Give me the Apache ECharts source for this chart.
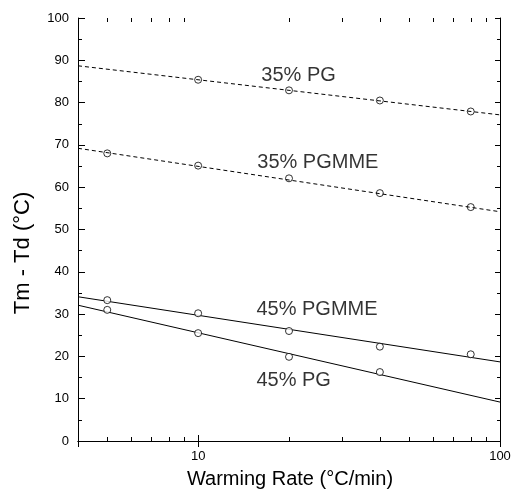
<!DOCTYPE html>
<html>
<head>
<meta charset="utf-8">
<script src="https://cdn.jsdelivr.net/npm/echarts@6/dist/echarts.min.js"></script>
<style>
html,body{margin:0;padding:0;background:#fff;}
#chart{width:515px;height:494px;}
</style>
</head>
<body>
<div id="chart"></div>
<script>
// Warming rates (°C/min)
const xRates = [5, 10, 20, 40, 80];
// Measured Tm - Td (°C)
const pg35 = [null, 85.4, 82.9, 80.5, 77.9];
const pgmme35 = [68.0, 65.1, 62.1, 58.6, 55.3];
const pgmme45 = [33.3, 30.2, 26.0, 22.3, 20.5];
const pg45 = [31.0, 25.5, 19.9, 16.3, null];
// Fitted lines, evaluated at the axis ends
const fitX = [4, 100];
const fitPg35 = [88.7, 77.1];
const fitPgmme35 = [69.2, 54.2];
const fitPgmme45 = [34.1, 18.7];
const fitPg45 = [32.1, 9.2];
// Curve labels and their anchors (data coordinates)
const curveNames = ['35% PG', '35% PGMME', '45% PGMME', '45% PG'];
const curveLabelX = [16.2, 15.7, 15.6, 15.6];
const curveLabelY = [86.5, 65.9, 31.2, 14.3];
// Axis ticks
const xMinorTicks = [5, 6, 7, 8, 9, 20, 30, 40, 50, 60, 70, 80, 90];
const yMin = 0, yMax = 100, yInterval = 10;
const xMin = 4, xMax = 100;

const FONT = "'Liberation Sans', Arial, Helvetica, sans-serif";

function pts(xs, ys) {
  const out = [];
  for (let i = 0; i < xs.length; i++) if (ys[i] !== null) out.push([xs[i], ys[i]]);
  return out;
}

const chart = echarts.init(document.getElementById('chart'), null, {renderer: 'canvas'});

const axisLine = {show: true, lineStyle: {color: '#000', width: 1}};

function fitSeries(ys, dashed) {
  return {
    type: 'line', data: pts(fitX, ys), symbol: 'none', silent: true, z: 2,
    lineStyle: {color: '#000', width: 1, type: dashed ? [4, 3] : 'solid'}
  };
}
function ptSeries(ys, fill) {
  return {
    type: 'scatter', data: pts(xRates, ys), symbol: 'circle', symbolSize: 7, z: 3,
    itemStyle: {color: fill, borderColor: '#000', borderWidth: 1}
  };
}

const option = {
  animation: false,
  backgroundColor: '#fff',
  textStyle: {fontFamily: FONT},
  grid: {left: 78, right: 15, top: 18, bottom: 53, containLabel: false},
  xAxis: [
    {
      type: 'log', logBase: 10, min: xMin, max: xMax, position: 'bottom',
      axisLine: axisLine,
      axisTick: {show: true, inside: true, length: 6, lineStyle: {color: '#000'}},
      axisLabel: {show: true, color: '#000', fontSize: 13, fontFamily: FONT, margin: 9, showMinLabel: false},
      splitLine: {show: false}
    },
    {
      type: 'log', logBase: 10, min: xMin, max: xMax, position: 'top',
      axisLine: axisLine,
      axisTick: {show: true, inside: true, length: 6, lineStyle: {color: '#000'}},
      axisLabel: {show: false},
      splitLine: {show: false}
    }
  ],
  yAxis: [
    {
      type: 'value', min: yMin, max: yMax, interval: yInterval, position: 'left',
      axisLine: axisLine,
      axisTick: {show: true, inside: true, length: 7, lineStyle: {color: '#000'}},
      minorTick: {show: true, splitNumber: 2, length: 4, lineStyle: {color: '#000'}},
      axisLabel: {show: true, color: '#000', fontSize: 13, fontFamily: FONT, margin: 9},
      splitLine: {show: false}
    },
    {
      type: 'value', min: yMin, max: yMax, interval: yInterval, position: 'right',
      axisLine: axisLine,
      axisTick: {show: true, inside: true, length: 5, lineStyle: {color: '#000'}},
      minorTick: {show: true, splitNumber: 2, length: 3, lineStyle: {color: '#000'}},
      axisLabel: {show: false},
      splitLine: {show: false}
    }
  ],
  graphic: [
    {
      type: 'text', x: 23, y: 253, rotation: Math.PI / 2,
      style: {text: 'Tm - Td (°C)', font: '22px ' + FONT, fill: '#000', align: 'center', verticalAlign: 'middle'}
    },
    {
      type: 'text', x: 290, y: 479,
      style: {text: 'Warming Rate (°C/min)', font: '20px ' + FONT, fill: '#000', align: 'center', verticalAlign: 'middle'}
    }
  ],
  series: [
    fitSeries(fitPg35, true),
    fitSeries(fitPgmme35, true),
    fitSeries(fitPgmme45, false),
    fitSeries(fitPg45, false),
    ptSeries(pg35, 'rgba(255,255,255,0)'),
    ptSeries(pgmme35, 'rgba(255,255,255,0)'),
    ptSeries(pgmme45, '#fff'),
    ptSeries(pg45, '#fff'),
    {
      type: 'scatter', symbolSize: 0, silent: true, z: 4,
      data: curveNames.map((n, i) => ({name: n, value: [curveLabelX[i], curveLabelY[i]]})),
      label: {show: true, formatter: '{b}', position: 'right', distance: 0, color: '#000', fontSize: 20, fontFamily: FONT}
    },
    {
      type: 'custom', silent: true, z: 5,
      data: xMinorTicks.map(v => [v, yMin]),
      encode: {x: 0, y: 1},
      renderItem: function (params, api) {
        const v = api.value(0);
        const b = api.coord([v, yMin]);
        const t = api.coord([v, yMax]);
        const x = Math.round(b[0]) + 0.5;
        return {
          type: 'group',
          children: [
            {type: 'line', shape: {x1: x, y1: b[1], x2: x, y2: b[1] - 4}, style: {stroke: '#000', lineWidth: 1}},
            {type: 'line', shape: {x1: x, y1: t[1], x2: x, y2: t[1] + 4}, style: {stroke: '#000', lineWidth: 1}}
          ]
        };
      }
    }
  ]
};
chart.setOption(option);
</script>
</body>
</html>
